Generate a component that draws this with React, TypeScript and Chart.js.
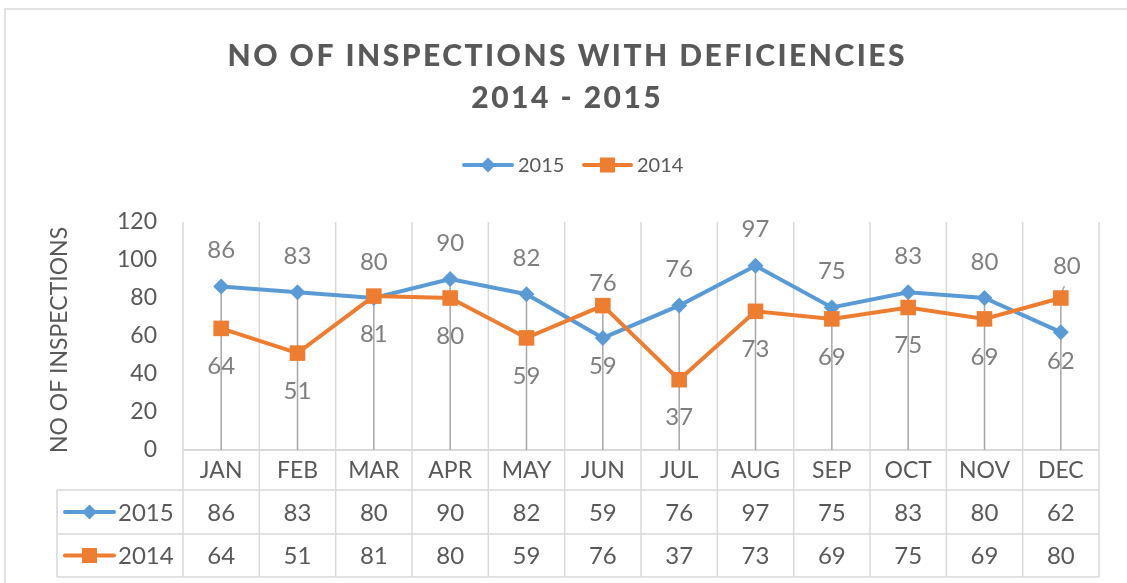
import React, { useEffect, useRef } from 'react';
import { Chart, registerables } from 'chart.js';

Chart.register(...registerables);

// ---- data ----
const months = ['JAN', 'FEB', 'MAR', 'APR', 'MAY', 'JUN', 'JUL', 'AUG', 'SEP', 'OCT', 'NOV', 'DEC'];
const values2015 = [86, 83, 80, 90, 82, 59, 76, 97, 75, 83, 80, 62];
const values2014 = [64, 51, 81, 80, 59, 76, 37, 73, 69, 75, 69, 80];
const seriesNames = ['2015', '2014'];
const titleLines = ['NO OF INSPECTIONS WITH DEFICIENCIES', '2014 - 2015'];
const yAxisTitle = 'NO OF INSPECTIONS';
const yMin = 0;
const yMax = 120;
const yStep = 20;

// ---- styles ----
const FONT = 'Lato, "Open Sans", sans-serif';
const BLUE = '#5B9BD5';
const ORANGE = '#ED7D31';
const TEXT = '#595959';
const LABEL = '#7f7f7f';
const GRID = '#d9d9d9';
const DROP = '#a6a6a6';
const ABOVE_GAP = 36;
const BELOW_GAP = 38;
// label distance tweaks for hand-moved labels (by month index): [aboveGap, belowGap, dx]
const labelNudge: Record<number, [number, number, number]> = {
  5: [22, 28, 0],
  11: [32, 29, 6],
};

const W = 1127;
const H = 583;

function drawMarker(ctx: CanvasRenderingContext2D, kind: string, x: number, y: number, color: string) {
  ctx.save();
  ctx.fillStyle = color;
  ctx.beginPath();
  if (kind === 'diamond') {
    const r = 7.5;
    ctx.moveTo(x, y - r);
    ctx.lineTo(x + r, y);
    ctx.lineTo(x, y + r);
    ctx.lineTo(x - r, y);
    ctx.closePath();
  } else {
    const s = 7.5;
    ctx.rect(x - s, y - s, 2 * s, 2 * s);
  }
  ctx.fill();
  ctx.restore();
}

function drawLegendItem(ctx: CanvasRenderingContext2D, x0: number, x1: number, y: number, kind: string, color: string, text: string, textX: number, font: string) {
  ctx.save();
  ctx.strokeStyle = color;
  ctx.lineWidth = 4;
  ctx.lineCap = 'round';
  ctx.beginPath();
  ctx.moveTo(x0, y);
  ctx.lineTo(x1, y);
  ctx.stroke();
  drawMarker(ctx, kind, (x0 + x1) / 2, y, color);
  ctx.fillStyle = TEXT;
  ctx.font = font;
  ctx.textAlign = 'left';
  ctx.textBaseline = 'middle';
  ctx.fillText(text, textX, y + 1);
  ctx.restore();
}

const decorPlugin = {
  id: 'decor',
  beforeDatasetsDraw(chart: any) {
    const ctx: CanvasRenderingContext2D = chart.ctx;
    const xs = chart.scales.x;
    const ys = chart.scales.y;
    const area = chart.chartArea;
    const half = (xs.getPixelForValue(1) - xs.getPixelForValue(0)) / 2;
    const row1 = area.bottom + 40;
    const row2 = area.bottom + 84;
    const row3 = area.bottom + 127;
    const tableLeft = 57;

    ctx.save();
    // outer frame
    ctx.strokeStyle = GRID;
    ctx.lineWidth = 1.5;
    ctx.strokeRect(5, 9, W + 20, H + 20);

    // category separators through plot and table
    ctx.strokeStyle = GRID;
    ctx.lineWidth = 1.5;
    for (let i = 0; i <= months.length; i++) {
      const x = i < months.length ? xs.getPixelForValue(i) - half : xs.getPixelForValue(months.length - 1) + half;
      ctx.beginPath();
      ctx.moveTo(x, area.top);
      ctx.lineTo(x, row3);
      ctx.stroke();
    }
    // horizontal lines
    const right = xs.getPixelForValue(months.length - 1) + half;
    ctx.lineWidth = 2;
    ctx.beginPath();
    ctx.moveTo(area.left, area.bottom);
    ctx.lineTo(right, area.bottom);
    ctx.stroke();
    ctx.lineWidth = 1.5;
    [row1, row2, row3].forEach((yy) => {
      ctx.beginPath();
      ctx.moveTo(tableLeft, yy);
      ctx.lineTo(right, yy);
      ctx.stroke();
    });
    ctx.beginPath();
    ctx.moveTo(tableLeft, row1);
    ctx.lineTo(tableLeft, row3);
    ctx.stroke();

    // drop lines
    ctx.strokeStyle = DROP;
    ctx.lineWidth = 1.5;
    months.forEach((_, i) => {
      const top = Math.max(values2015[i], values2014[i]);
      const x = xs.getPixelForValue(i);
      ctx.beginPath();
      ctx.moveTo(x, ys.getPixelForValue(top));
      ctx.lineTo(x, ys.getPixelForValue(0));
      ctx.stroke();
      const n = labelNudge[i];
      if (n && n[2] !== 0) {
        // leader line toward a moved label
        const yt = ys.getPixelForValue(top);
        ctx.beginPath();
        ctx.moveTo(x, yt);
        ctx.lineTo(x, yt - 4);
        ctx.lineTo(x + n[2] * 0.6, yt - 12);
        ctx.stroke();
      }
    });
    ctx.restore();
  },
  afterDatasetsDraw(chart: any) {
    const ctx: CanvasRenderingContext2D = chart.ctx;
    const xs = chart.scales.x;
    const ys = chart.scales.y;
    const area = chart.chartArea;
    const row1 = area.bottom + 40;
    const row2 = area.bottom + 84;
    const row3 = area.bottom + 127;

    ctx.save();
    // data labels
    ctx.font = `24px ${FONT}`;
    ctx.fillStyle = LABEL;
    ctx.textAlign = 'center';
    ctx.textBaseline = 'middle';
    months.forEach((_, i) => {
      const a = values2015[i];
      const b = values2014[i];
      const above2015 = a >= b - 2;
      const n = labelNudge[i] || [ABOVE_GAP, BELOW_GAP, 0];
      const x = xs.getPixelForValue(i);
      const ya = ys.getPixelForValue(a);
      const yb = ys.getPixelForValue(b);
      if (above2015) {
        ctx.fillText(String(a), x + n[2], ya - n[0]);
        ctx.fillText(String(b), x, yb + n[1]);
      } else {
        ctx.fillText(String(a), x, ya + n[1]);
        ctx.fillText(String(b), x + n[2], yb - n[0]);
      }
    });

    // table: month header + values
    ctx.fillStyle = TEXT;
    ctx.font = `23px ${FONT}`;
    months.forEach((m, i) => {
      const x = xs.getPixelForValue(i);
      ctx.fillText(m, x, (area.bottom + row1) / 2 + 1);
    });
    ctx.font = `24px ${FONT}`;
    months.forEach((_, i) => {
      const x = xs.getPixelForValue(i);
      ctx.fillText(String(values2015[i]), x, (row1 + row2) / 2 + 1);
      ctx.fillText(String(values2014[i]), x, (row2 + row3) / 2 + 1);
    });
    drawLegendItem(ctx, 65, 114, (row1 + row2) / 2, 'diamond', BLUE, seriesNames[0], 118, `24px ${FONT}`);
    drawLegendItem(ctx, 65, 114, (row2 + row3) / 2, 'square', ORANGE, seriesNames[1], 118, `24px ${FONT}`);

    // top legend
    drawLegendItem(ctx, 464, 512, 165, 'diamond', BLUE, seriesNames[0], 518, `20px ${FONT}`);
    drawLegendItem(ctx, 584, 631, 165, 'square', ORANGE, seriesNames[1], 637, `20px ${FONT}`);

    // title
    ctx.fillStyle = TEXT;
    ctx.font = `900 30px ${FONT}`;
    ctx.textAlign = 'left';
    ctx.textBaseline = 'middle';
    const target = 677;
    (ctx as any).letterSpacing = '0px';
    const w0 = ctx.measureText(titleLines[0]).width;
    const sp = Math.max(0, (target - w0) / (titleLines[0].length - 1));
    (ctx as any).letterSpacing = `${sp}px`;
    const cx = 566;
    titleLines.forEach((line, k) => {
      const w = ctx.measureText(line).width - sp;
      ctx.fillText(line, cx - w / 2, 56 + k * 42);
    });
    (ctx as any).letterSpacing = '0px';

    // y axis title
    ctx.translate(60, (area.top + area.bottom) / 2 + 4);
    ctx.rotate(-Math.PI / 2);
    ctx.font = `23px ${FONT}`;
    ctx.textAlign = 'center';
    ctx.fillStyle = TEXT;
    ctx.fillText(yAxisTitle, 0, 0);
    ctx.restore();
  },
};

export default function App() {
  const ref = useRef<HTMLCanvasElement | null>(null);

  useEffect(() => {
    document.body.style.margin = '0';
    const canvas = ref.current;
    if (!canvas) return;
    const chart = new Chart(canvas, {
      type: 'line',
      data: {
        labels: months,
        datasets: [
          {
            label: seriesNames[0],
            data: values2015,
            borderColor: BLUE,
            backgroundColor: BLUE,
            borderWidth: 4,
            pointStyle: 'rectRot',
            pointRadius: 8,
            pointBorderWidth: 0,
            tension: 0,
            order: 1,
          },
          {
            label: seriesNames[1],
            data: values2014,
            borderColor: ORANGE,
            backgroundColor: ORANGE,
            borderWidth: 4,
            pointStyle: 'rect',
            pointRadius: 11,
            pointBorderWidth: 0,
            tension: 0,
            order: 0,
          },
        ],
      },
      options: {
        responsive: false,
        animation: false,
        devicePixelRatio: 1,
        layout: { padding: { top: 222, right: 28, bottom: 133, left: 0 } },
        plugins: {
          legend: { display: false },
          title: { display: false },
          tooltip: { enabled: false },
        },
        scales: {
          x: {
            display: false,
            offset: true,
          },
          y: {
            min: yMin,
            max: yMax,
            ticks: {
              stepSize: yStep,
              color: TEXT,
              font: { family: FONT, size: 23 },
              padding: 26,
            },
            grid: { display: false, drawTicks: false },
            border: { display: false },
            afterFit: (s: any) => {
              s.width = 183;
            },
          },
        },
      },
      plugins: [decorPlugin],
    });
    return () => chart.destroy();
  }, []);

  return (
    <div style={{ width: W, height: H, background: '#fff' }}>
      <canvas ref={ref} width={W} height={H} style={{ display: 'block' }} />
    </div>
  );
}
